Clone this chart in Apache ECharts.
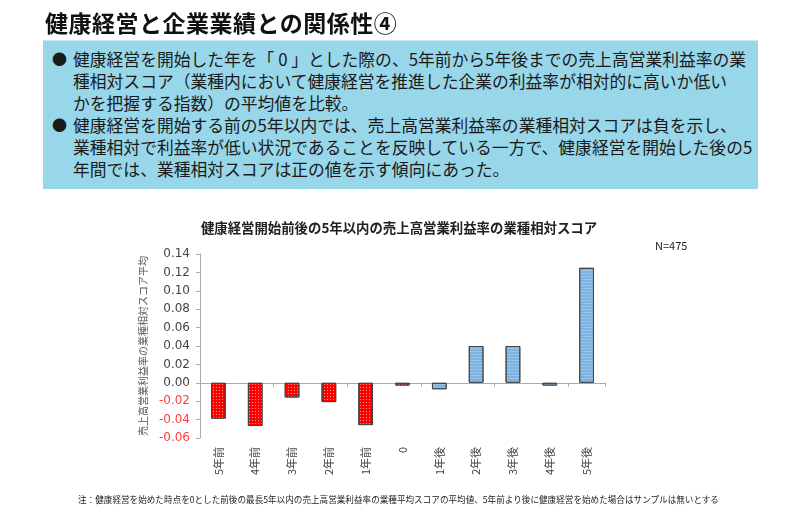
<!DOCTYPE html>
<html>
<head>
<meta charset="utf-8">
<script src="https://cdn.jsdelivr.net/npm/echarts@6/dist/echarts.min.js"></script>
<style>
  html, body { margin: 0; padding: 0; background: #fff; }
  body { width: 800px; height: 529px; position: relative; overflow: hidden;
         font-family: "Noto Sans CJK JP", "Noto Sans", sans-serif; }
  #chart { position: absolute; left: 0; top: 0; width: 800px; height: 529px; }
  .title { position: absolute; left: 45px; top: 5px; font-size: 23px; font-weight: bold; color: #111; letter-spacing: 0.5px; }
  .box { position: absolute; left: 43px; top: 40px; width: 715px; height: 148px; background: #98d6ea; border-top: 1px solid #c9e9f3; }
  .box ul { margin: 0; padding: 7px 0 0 0; list-style: none; }
  .box li { position: relative; padding-left: 30px; font-size: 16.8px; line-height: 22px; color: #1a1a1a; white-space: nowrap; }
  .box li:before { content: "●"; position: absolute; left: 9px; top: 0; font-size: 15px; }
  .note { position: absolute; left: 78px; top: 493px; font-size: 8.6px; color: #222; white-space: nowrap; }
</style>
</head>
<body>
<div id="chart"></div>
<div class="title">健康経営と企業業績との関係性④</div>
<div class="box">
  <ul>
    <li>健康経営を開始した年を「 0 」とした際の、5年前から5年後までの売上高営業利益率の業<br>種相対スコア（業種内において健康経営を推進した企業の利益率が相対的に高いか低い<br>かを把握する指数）の平均値を比較。</li>
    <li>健康経営を開始する前の5年以内では、売上高営業利益率の業種相対スコアは負を示し、<br>業種相対で利益率が低い状況であることを反映している一方で、健康経営を開始した後の5<br>年間では、業種相対スコアは正の値を示す傾向にあった。</li>
  </ul>
</div>
<div class="note">注：健康経営を始めた時点を0とした前後の最長5年以内の売上高営業利益率の業種平均スコアの平均値、5年前より後に健康経営を始めた場合はサンプルは無いとする</div>
<script>
// 年次カテゴリ
var categories = ['5年前', '4年前', '3年前', '2年前', '1年前', '0', '1年後', '2年後', '3年後', '4年後', '5年後'];
// 業種相対スコア平均
var scores = [-0.039, -0.047, -0.016, -0.021, -0.046, -0.003, -0.007, 0.040, 0.040, -0.003, 0.125];
// 開始前(0を含む)は赤、開始後は青
var beforeCount = 6;

var chart = echarts.init(document.getElementById('chart'));

var redStyle = {
  color: '#ff0000', borderColor: '#444', borderWidth: 1,
  decal: { symbol: 'rect', symbolSize: 1, dashArrayX: [1, 2], dashArrayY: [1, 2], color: 'rgba(255,210,210,0.7)' }
};
var blueStyle = {
  color: '#7db4e2', borderColor: '#444', borderWidth: 1,
  decal: { symbol: 'rect', symbolSize: 1, dashArrayX: [[10, 0]], dashArrayY: [1, 2], color: 'rgba(170,205,238,0.6)' }
};

var barData = scores.map(function (v, i) {
  return { value: v, itemStyle: i < beforeCount ? redStyle : blueStyle };
});

chart.setOption({
  animation: false,
  title: [{
    text: '健康経営開始前後の5年以内の売上高営業利益率の業種相対スコア',
    left: 394, top: 216, textAlign: 'center',
    textStyle: { fontSize: 13.4, fontWeight: 'bold', color: '#222', fontFamily: 'Noto Sans CJK JP' }
  }, {
    text: 'N=475', left: 650, top: 235,
    textStyle: { fontSize: 11, fontWeight: 'normal', color: '#222', fontFamily: 'Noto Sans CJK JP' }
  }],
  grid: { left: 200, right: 195, top: 254, bottom: 91 },
  xAxis: [{
    type: 'category', data: categories,
    axisLine: { onZero: true, lineStyle: { color: '#aaa' } },
    axisTick: { show: true, length: 4, lineStyle: { color: '#aaa' } },
    axisLabel: { show: false }
  }, {
    type: 'category', data: categories, position: 'bottom',
    axisLine: { show: false }, axisTick: { show: false },
    axisLabel: { rotate: 90, margin: 9, fontSize: 11, color: '#444', fontFamily: 'Noto Sans CJK JP' }
  }],
  yAxis: {
    type: 'value', min: -0.06, max: 0.14, interval: 0.02,
    name: '売上高営業利益率の業種相対スコア平均',
    nameLocation: 'middle', nameGap: 47, nameRotate: 90,
    nameTextStyle: { fontSize: 10, color: '#555', fontFamily: 'Noto Sans CJK JP' },
    splitLine: { show: false },
    axisLine: { show: true, lineStyle: { color: '#aaa' } },
    axisTick: { show: true, length: 4, lineStyle: { color: '#aaa' } },
    axisLabel: {
      fontSize: 12, margin: 10, fontFamily: 'DejaVu Sans',
      formatter: function (v) { return v.toFixed(2); },
      color: function (v) { return Number(v) < 0 ? '#ff3b3b' : '#444'; }
    }
  },
  series: [{
    type: 'bar', xAxisIndex: 0, data: barData, barWidth: '40%'
  }]
});
</script>
</body>
</html>
